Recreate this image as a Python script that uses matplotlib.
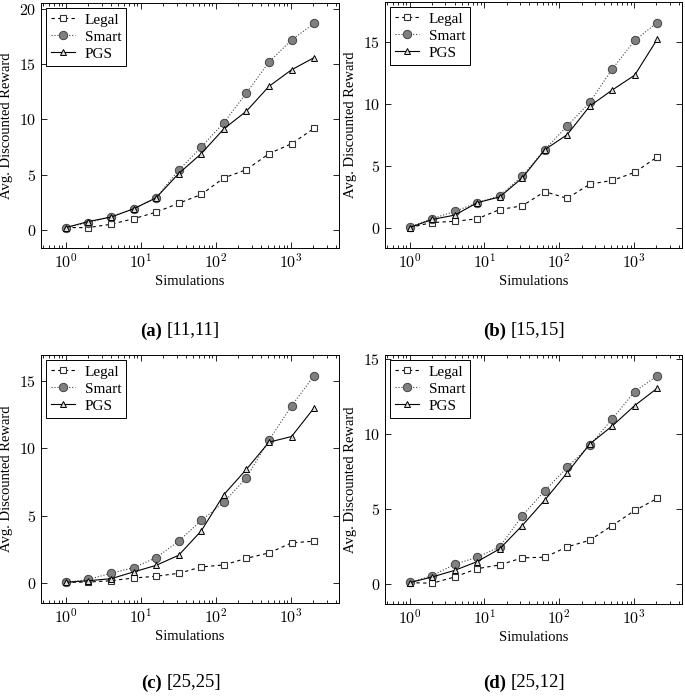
import numpy as np
import matplotlib
matplotlib.use("Agg")
import matplotlib.pyplot as plt
from matplotlib.ticker import FuncFormatter, LogLocator, MultipleLocator

plt.rcParams['font.family'] = ['Liberation Serif', 'DejaVu Serif']
plt.rcParams['mathtext.fontset'] = 'cm'

sims = [1, 2, 4, 8, 16, 32, 64, 128, 256, 512, 1024, 2048]

legal_a = [0.2, 0.2, 0.5, 1.0, 1.6, 2.4, 3.2, 4.7, 5.45, 6.9, 7.8, 9.2]
smart_a = [0.2, 0.65, 1.2, 1.9, 2.9, 5.4, 7.5, 9.7, 12.4, 15.2, 17.2, 18.7]
pgs_a = [0.2, 0.75, 1.15, 1.9, 2.9, 5.1, 6.9, 9.15, 10.75, 13.0, 14.5, 15.6]

legal_b = [0.0, 0.4, 0.5, 0.7, 1.45, 1.75, 2.9, 2.35, 3.5, 3.8, 4.45, 5.7]
smart_b = [0.05, 0.72, 1.3, 2.0, 2.57, 4.15, 6.28, 8.2, 10.1, 12.8, 15.1, 16.55]
pgs_b = [0.0, 0.65, 1.0, 2.0, 2.47, 4.0, 6.28, 7.5, 9.8, 11.1, 12.3, 15.2]

legal_c = [0.05, 0.07, 0.17, 0.37, 0.5, 0.72, 1.19, 1.34, 1.83, 2.23, 2.98, 3.1]
smart_c = [0.05, 0.27, 0.72, 1.14, 1.88, 3.1, 4.64, 5.98, 7.81, 10.59, 13.14, 15.37]
pgs_c = [0.05, 0.17, 0.32, 0.82, 1.31, 2.06, 3.87, 6.55, 8.43, 10.44, 10.86, 12.99]

legal_d = [0.11, 0.07, 0.49, 1.04, 1.29, 1.76, 1.8, 2.49, 2.93, 3.91, 4.91, 5.71]
smart_d = [0.13, 0.58, 1.33, 1.8, 2.49, 4.56, 6.22, 7.78, 9.24, 11.0, 12.82, 13.87]
pgs_d = [0.11, 0.49, 0.93, 1.51, 2.36, 3.91, 5.6, 7.42, 9.33, 10.53, 11.89, 13.04]

caption_tags = ['(a)', '(b)', '(c)', '(d)']
caption_sizes = ['[11,11]', '[15,15]', '[25,25]', '[25,12]']
panels = [(legal_a, smart_a, pgs_a), (legal_b, smart_b, pgs_b),
          (legal_c, smart_c, pgs_c), (legal_d, smart_d, pgs_d)]

W, H = 685, 697
fig = plt.figure(figsize=(W / 100, H / 100), dpi=100)

# axes boxes in pixels: left, top, right, bottom
boxes = [(41, 3, 339, 248), (385, 2, 682, 248),
         (41, 355, 339, 603), (385, 355, 682, 604)]
cap_pos = [(165, 331), (509, 331), (165, 683), (509, 683)]

logfmt = FuncFormatter(lambda v, p: r'$10^{%d}$' % round(np.log10(v)))
numfmt = FuncFormatter(lambda v, p: r'$%d$' % v)

for i, (legal, smart, pgs) in enumerate(panels):
    l, t, r, b = boxes[i]
    ax = fig.add_axes([l / W, 1 - b / H, (r - l) / W, (b - t) / H])
    ax.plot(sims, legal, '--', color='black', lw=0.8, dashes=(3, 3),
            marker='s', ms=5, mfc='white', mec='#333333', mew=0.8, label='Legal')
    ax.plot(sims, smart, ':', color='#444444', lw=0.8,
            marker='o', ms=6, mfc='#808080', mec='#444444', mew=0.7, label='Smart')
    ax.plot(sims, pgs, '-', color='black', lw=0.8,
            marker='^', ms=4.5, mfc='#dddddd', mec='black', mew=0.7, label='PGS')
    ax.set_xscale('log')
    lo = np.log10(sims[0]); hi = np.log10(sims[-1])
    pad = 0.1 * (hi - lo)
    ax.set_xlim(10 ** (lo - pad), 10 ** (hi + pad))
    ymin = min(min(legal), min(smart), min(pgs))
    ymax = max(max(legal), max(smart), max(pgs))
    ypad = 0.1 * (ymax - ymin)
    ax.set_ylim(ymin - ypad, ymax + ypad)
    ax.xaxis.set_major_locator(LogLocator(base=10, numticks=10))
    ax.xaxis.set_minor_locator(LogLocator(base=10, subs=np.arange(2, 10), numticks=20))
    ax.xaxis.set_major_formatter(logfmt)
    ax.yaxis.set_major_locator(MultipleLocator(5))
    ax.yaxis.set_major_formatter(numfmt)
    ax.tick_params(which='both', direction='in', top=True, right=True,
                   labelsize=11.5, width=0.6)
    ax.tick_params(which='major', length=4)
    ax.tick_params(which='minor', length=2)
    for s in ax.spines.values():
        s.set_linewidth(0.7)
    ax.set_xlabel('Simulations', fontsize=10.5, labelpad=3)
    ax.set_ylabel('Avg. Discounted Reward', fontsize=10.5, labelpad=4)
    leg = ax.legend(loc='upper left', fontsize=11, fancybox=False,
                    edgecolor='black', framealpha=1, handlelength=1.6,
                    borderpad=0.35, labelspacing=0.22, handletextpad=0.6,
                    borderaxespad=0.3)
    leg.get_frame().set_linewidth(0.7)

    cx, cy = cap_pos[i]
    fig.text(cx / W - 0.004, 1 - cy / H, caption_tags[i], ha='right', va='center',
             fontsize=13.5, fontweight='bold')
    fig.text(cx / W + 0.002, 1 - cy / H, caption_sizes[i], ha='left', va='center',
             fontsize=13.5)

fig.savefig('out.png', dpi=100)
